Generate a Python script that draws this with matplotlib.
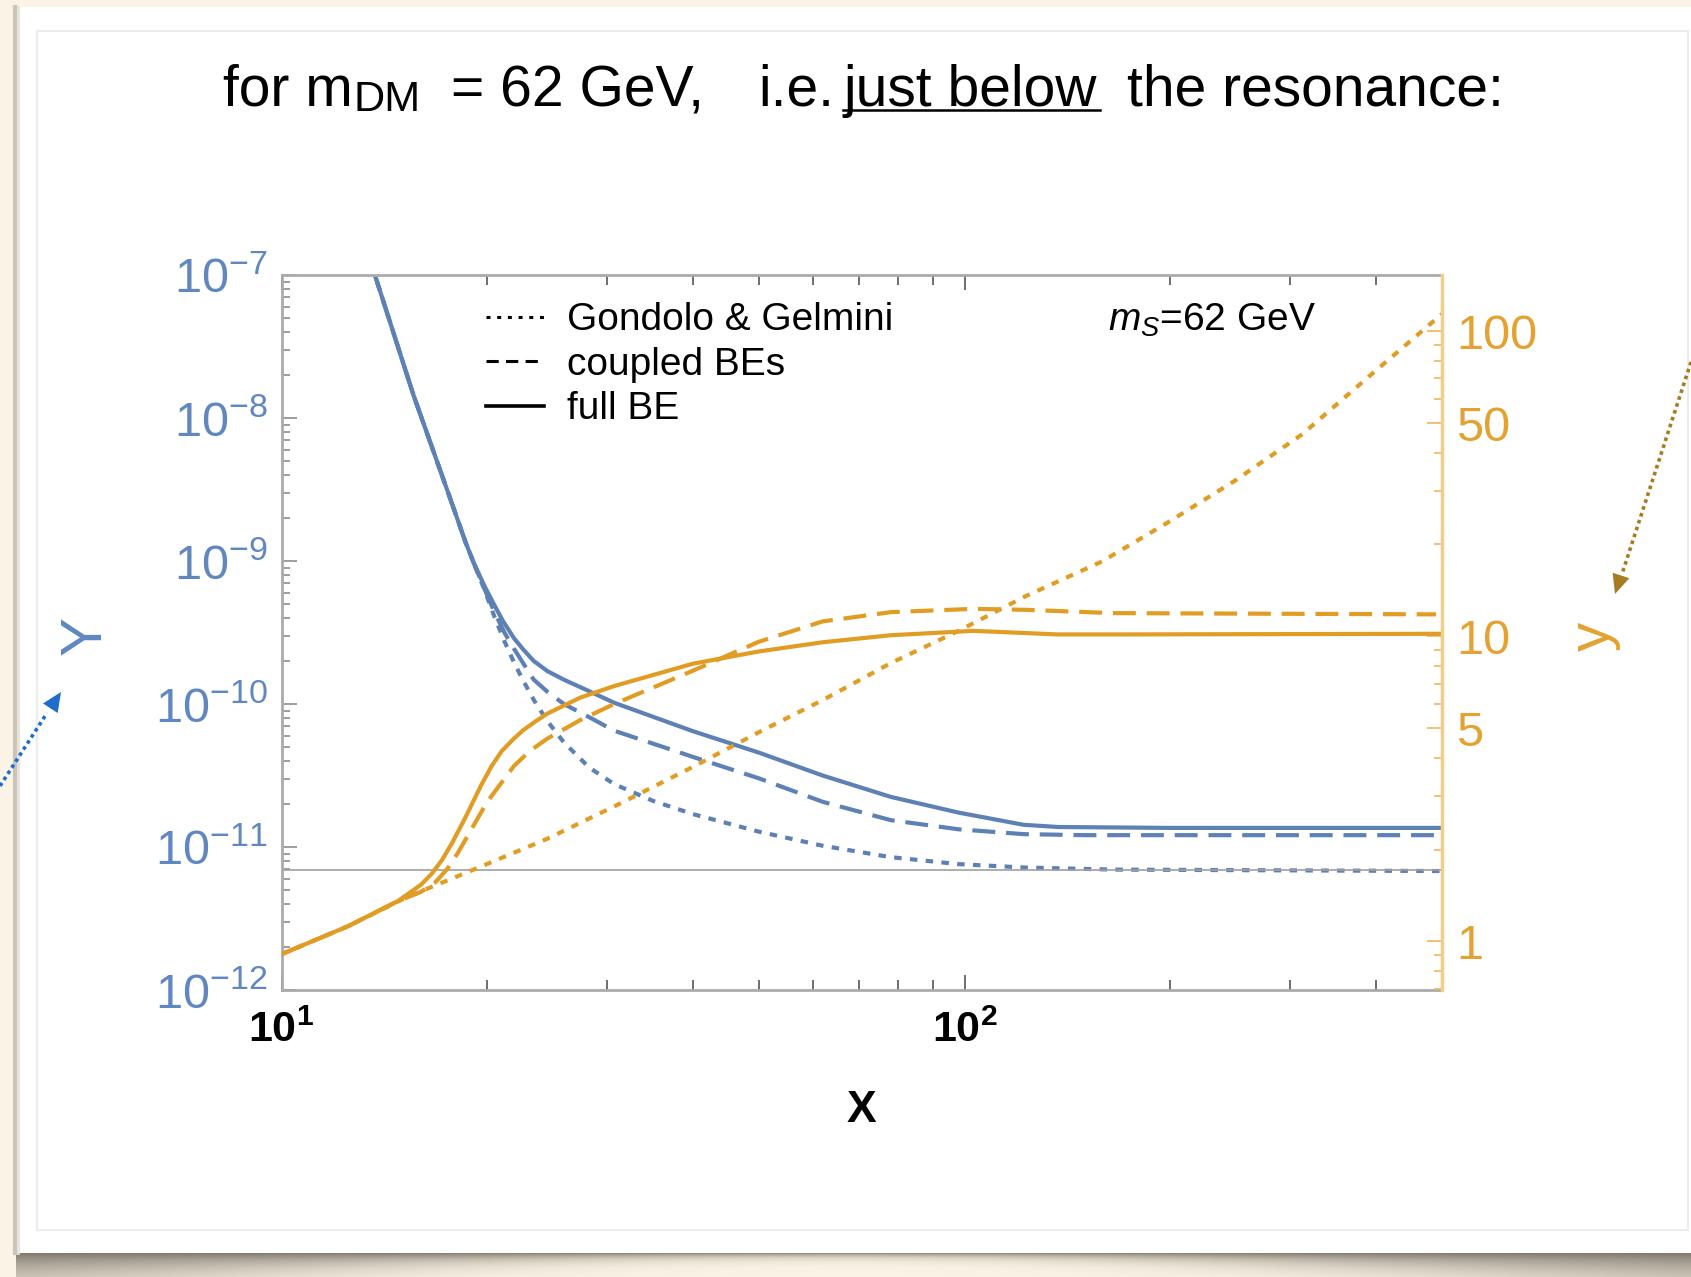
import numpy as np
import matplotlib
matplotlib.use("Agg")
import matplotlib.pyplot as plt
from matplotlib import font_manager
from matplotlib.lines import Line2D
from matplotlib.patches import Rectangle
from matplotlib.ticker import LogLocator, NullFormatter


def has_font(name):
    try:
        font_manager.findfont(name, fallback_to_default=False)
        return True
    except ValueError:
        return False


NARROW = "Liberation Sans Narrow" if has_font("Liberation Sans Narrow") else "Liberation Sans"

plt.rcParams["font.family"] = ["Liberation Sans", "DejaVu Sans"]
plt.rcParams["mathtext.fontset"] = "custom"
plt.rcParams["mathtext.rm"] = "Liberation Sans"
plt.rcParams["mathtext.it"] = "Liberation Sans:italic"
plt.rcParams["mathtext.bf"] = NARROW + ":bold"

# ---- data ----
# blue curves: Y (left axis)
x_Y_full = [13.2, 13.7, 15.6, 17.5, 18.6, 19.1, 19.8, 20.5, 21.1, 21.9, 22.6, 23.4, 24.5, 25.9, 28.2, 30.7,
            40, 50, 62, 78, 98, 122, 137, 200, 500]
Y_full = [1.86e-7, 1.0e-7, 1.45e-8, 3.09e-9, 1.35e-9, 9.8e-10, 6.76e-10, 4.9e-10, 3.8e-10, 2.88e-10,
          2.4e-10, 2.0e-10, 1.70e-10, 1.48e-10, 1.23e-10, 1.02e-10, 6.46e-11, 4.57e-11, 3.16e-11,
          2.24e-11, 1.74e-11, 1.43e-11, 1.38e-11, 1.36e-11, 1.36e-11]

x_Y_coupled = [13.2, 13.7, 15.6, 17.5, 18.6, 19.1, 19.8, 20.5, 21.2, 21.9, 23.4, 24.5, 25.9, 28.2, 30.7,
               40, 50, 62, 78, 98, 122, 150, 500]
Y_coupled = [1.86e-7, 1.0e-7, 1.45e-8, 3.09e-9, 1.35e-9, 9.8e-10, 6.46e-10, 4.4e-10, 3.16e-10, 2.43e-10,
             1.48e-10, 1.22e-10, 1.0e-10, 8.1e-11, 6.5e-11, 4.27e-11, 3.02e-11, 2.07e-11, 1.54e-11,
             1.33e-11, 1.23e-11, 1.21e-11, 1.21e-11]

x_Y_gg = [13.2, 13.7, 15.6, 17.5, 18.6, 19.1, 19.8, 20.5, 21.2, 21.9, 22.6, 23.4, 24.5, 25.9, 28.2, 30.7,
          35, 40, 50, 62, 78, 98, 122, 165, 500]
Y_gg = [1.86e-7, 1.0e-7, 1.45e-8, 3.09e-9, 1.35e-9, 9.8e-10, 6.38e-10, 4.07e-10, 2.75e-10, 1.95e-10,
        1.45e-10, 1.07e-10, 7.6e-11, 5.4e-11, 3.6e-11, 2.75e-11, 2.1e-11, 1.70e-11, 1.28e-11, 1.02e-11,
        8.49e-12, 7.59e-12, 7.19e-12, 6.95e-12, 6.79e-12]

Y_eq = 6.95e-12

# orange curves: y (right axis)
x_y_full = [10, 12.5, 14.8, 16.0, 16.6, 17.2, 17.8, 18.6, 19.6, 20.3, 21.0, 21.8, 22.6, 23.6, 24.5,
            26.0, 27.4, 30.7, 40, 50, 62, 78, 103, 137, 165, 500]
y_full = [0.908, 1.12, 1.355, 1.533, 1.668, 1.856, 2.115, 2.555, 3.25, 3.75, 4.20, 4.58, 4.93, 5.28, 5.58,
          5.95, 6.30, 6.87, 8.13, 8.92, 9.56, 10.08, 10.42, 10.14, 10.14, 10.19]

x_y_coupled = [10, 12.5, 14.8, 16.0, 16.8, 17.5, 18.1, 18.7, 20.0, 21.9, 23.1, 24.5, 27.4, 30.7, 40, 50,
               62, 78, 103, 123, 165, 490]
y_coupled = [0.908, 1.12, 1.355, 1.453, 1.563, 1.731, 1.942, 2.204, 2.865, 3.76, 4.21, 4.62, 5.32, 6.0,
             7.71, 9.6, 11.19, 12.0, 12.30, 12.21, 11.91, 11.80]

x_y_gg = [10, 12.5, 15.3, 19.6, 24.5, 30.7, 40, 50, 62, 78, 98, 123, 159, 199, 249, 312, 391, 500]
y_gg = [0.908, 1.12, 1.40, 1.76, 2.17, 2.77, 3.73, 4.85, 6.18, 8.17, 10.42, 13.55, 17.6, 23.7, 32.4,
        45.9, 71.1, 113.9]

legend_labels = ["Gondolo & Gelmini", "coupled BEs", "full BE"]
left_ticks = [1e-12, 1e-11, 1e-10, 1e-9, 1e-8, 1e-7]
left_labels = [r"$10^{-12}$", r"$10^{-11}$", r"$10^{-10}$", r"$10^{-9}$", r"$10^{-8}$", r"$10^{-7}$"]
right_ticks = [1, 5, 10, 50, 100]
right_labels = ["1", "5", "10", "50", "100"]
x_ticks = [10, 100]
x_labels = [r"$\mathbf{10^{1}}$", r"$\mathbf{10^{2}}$"]

BLUE = "#5E81B5"
BLUE_TXT = "#6087C0"
ORANGE = "#E19C24"
ORANGE_TXT = "#E3A232"
LW = 3.0
DOT = (0, (1.8, 2.0))
DASH = (0, (5.5, 2.6))

W, H = 1691, 1277
fig = plt.figure(figsize=(W / 100, H / 100), dpi=100)
fig.patch.set_facecolor("#FBF4E6")

# ---- slide background (pixel coordinates, y downwards) ----
bg = fig.add_axes([0, 0, 1, 1], zorder=0)
bg.axis("off")
bg.add_patch(Rectangle((16, 7), W - 16, 1246, fc="white", ec="none"))
bg.plot([15, 15], [7, 1253], color="#C9C3B8", lw=3)
bg.plot([18, 18], [7, 1253], color="#E6E2DB", lw=2)
bg.add_patch(Rectangle((37, 31), 1651, 1199, fill=False, ec="#ECECEC", lw=1.5))

sx = np.linspace(-1, 1, 400)
sy = np.arange(0, 26)
width = 4 + 22 * sx ** 2
shadow = np.zeros((len(sy), len(sx), 4))
shadow[..., :3] = [0.40, 0.37, 0.33]
shadow[..., 3] = 0.85 * np.exp(-sy[:, None] / width[None, :])
bg.imshow(shadow, extent=(16, W, 1278, 1252), aspect="auto", interpolation="bilinear")

# arrows pointing at the axis labels
bg.plot([0, 47], [786, 713], ls=(0, (1, 1)), lw=2.6, color="#1F6DCC")
bg.annotate("", xy=(61, 692), xytext=(42, 721),
            arrowprops=dict(arrowstyle="-|>,head_length=1.0,head_width=0.45", color="#1F6DCC",
                            lw=0, mutation_scale=14, shrinkA=0, shrinkB=0))
bg.plot([W, 1622], [362, 574], ls=(0, (1, 1)), lw=2.6, color="#A67B21")
bg.annotate("", xy=(1615, 594), xytext=(1627, 557),
            arrowprops=dict(arrowstyle="-|>,head_length=1.0,head_width=0.45", color="#A67B21",
                            lw=0, mutation_scale=14, shrinkA=0, shrinkB=0))

bg.set_xlim(0, W)
bg.set_ylim(H, 0)

# ---- title built from pieces ----
renderer = fig.canvas.get_renderer()
TS = 41
base = 106


def right_edge(t):
    bb = t.get_window_extent(renderer)
    return bg.transData.inverted().transform((bb.x1, bb.y0))[0]


t = bg.text(223, base, "for m", fontsize=TS, va="baseline")
bg.text(right_edge(t) + 1, base + 5, "DM", fontsize=TS * 0.76, va="baseline")
bg.text(451, base, "= 62 GeV,", fontsize=TS, va="baseline")
bg.text(758, base, "i.e.", fontsize=TS, va="baseline")
t = bg.text(843, base, "just below", fontsize=TS, va="baseline")
bb = t.get_window_extent(renderer)
x0 = bg.transData.inverted().transform((bb.x0, bb.y0))[0]
bg.plot([x0, right_edge(t) + 4], [base + 4, base + 4], color="black", lw=1.8)
bg.text(1127, base, "the resonance:", fontsize=TS, va="baseline")

# ---- axis labels ----
bg.text(86, 636, "Y", rotation=90, fontsize=42, color=BLUE_TXT, ha="center", va="center")
bg.text(1594, 636, "y", rotation=90, fontsize=42, color=ORANGE_TXT, ha="center", va="center")
bg.text(861, 1111, "X", fontsize=32, fontweight="bold", ha="center", va="center",
        family=[NARROW, "Liberation Sans"])

# ---- main plot ----
ax = fig.add_axes([281.5 / W, 1 - 990 / H, (1442 - 281.5) / W, (990 - 275) / H], zorder=2)
ax.set_facecolor("white")
ax2 = ax.twinx()

ax.plot(x_Y_gg, Y_gg, color=BLUE, lw=LW, ls=DOT)
ax.plot(x_Y_coupled, Y_coupled, color=BLUE, lw=LW, ls=DASH)
ax.plot(x_Y_full, Y_full, color=BLUE, lw=LW)
ax.axhline(Y_eq, color="#A0A0A0", lw=1.2)

ax2.plot(x_y_gg, y_gg, color=ORANGE, lw=LW, ls=DOT)
ax2.plot(x_y_coupled, y_coupled, color=ORANGE, lw=LW, ls=DASH)
ax2.plot(x_y_full, y_full, color=ORANGE, lw=LW)

ax.set_xscale("log")
ax.set_yscale("log")
ax2.set_yscale("log")

ax.set_xticks(x_ticks, labels=x_labels)
ax.xaxis.set_minor_locator(LogLocator(base=10, subs=np.arange(2, 10), numticks=20))
ax.xaxis.set_minor_formatter(NullFormatter())
ax.set_yticks(left_ticks, labels=left_labels)
ax.yaxis.set_minor_locator(LogLocator(base=10, subs=np.arange(2, 10), numticks=20))
ax.yaxis.set_minor_formatter(NullFormatter())
ax2.set_yticks(right_ticks, labels=right_labels)
ax2.yaxis.set_minor_locator(LogLocator(base=10, subs=np.arange(1, 10), numticks=20))
ax2.yaxis.set_minor_formatter(NullFormatter())

ax.set_xlim(10, 500)
ax.set_ylim(1e-12, 1e-7)
ax2.set_ylim(0.693, 152.8)

ax.tick_params(axis="x", which="both", direction="in", top=True, bottom=True, color="#555555", width=1.2)
ax.tick_params(axis="x", which="major", length=11, pad=15, labelsize=31, labelcolor="black")
ax.tick_params(axis="x", which="minor", length=7)
ax.tick_params(axis="y", which="both", direction="in", left=True, right=False, color="#8C8C8C", width=1.2)
ax.tick_params(axis="y", which="major", length=11, pad=10, labelsize=35, labelcolor=BLUE_TXT)
ax.tick_params(axis="y", which="minor", length=6)
ax2.tick_params(axis="y", which="both", direction="in", color="#EBB75A", width=1.2)
ax2.tick_params(axis="y", which="major", length=11, pad=10, labelsize=35, labelcolor=ORANGE_TXT)
ax2.tick_params(axis="y", which="minor", length=6)

for s in ["left", "top", "bottom"]:
    ax.spines[s].set_color("#ABABAB")
    ax.spines[s].set_linewidth(2)
    ax2.spines[s].set_visible(False)
ax.spines["right"].set_visible(False)
ax2.spines["right"].set_color("#F2CD8C")
ax2.spines["right"].set_linewidth(2.5)

handles = [Line2D([], [], color="black", lw=2.2, ls=(0, (1.3, 2.2))),
           Line2D([], [], color="black", lw=2.2, ls=(0, (4.0, 2.4))),
           Line2D([], [], color="black", lw=2.6)]
ax2.legend(handles, legend_labels, loc="upper left", bbox_to_anchor=(0.176, 0.962), frameon=False,
           fontsize=28, handlelength=1.5, handletextpad=0.6, labelspacing=0.22,
           borderpad=0, borderaxespad=0)
ax2.text(0.712, 0.937, r"$m_S$=62 GeV", transform=ax.transAxes, fontsize=28, va="center", ha="left")

fig.savefig("out.png", dpi=100, facecolor=fig.get_facecolor())
